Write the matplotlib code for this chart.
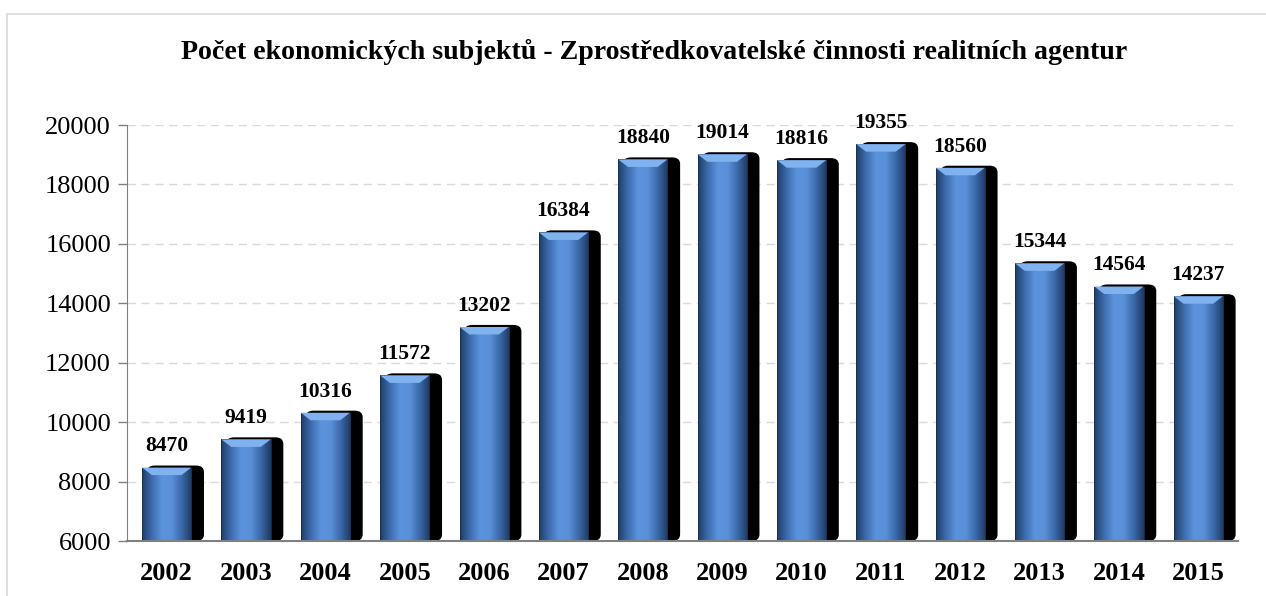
import matplotlib
matplotlib.use("Agg")
import matplotlib.pyplot as plt
import numpy as np
from matplotlib.patches import Rectangle, FancyBboxPatch, Polygon
from matplotlib.colors import LinearSegmentedColormap

years = ["2002", "2003", "2004", "2005", "2006", "2007", "2008",
         "2009", "2010", "2011", "2012", "2013", "2014", "2015"]
values = [8470, 9419, 10316, 11572, 13202, 16384, 18840,
          19014, 18816, 19355, 18560, 15344, 14564, 14237]
yticks = [6000, 8000, 10000, 12000, 14000, 16000, 18000, 20000]
title = "Počet ekonomických subjektů - Zprostředkovatelské činnosti realitních agentur"

plt.rcParams['font.family'] = ['Liberation Serif', 'DejaVu Serif']

fig = plt.figure(figsize=(12.66, 5.96), dpi=100)
ax = fig.add_axes([127/1266, 1-541/596, (1238-127)/1266, (541-125)/596])

# figure border
fig.patches.append(Rectangle((7/1266, -0.05), 1.1, 1-14/596+0.05, transform=fig.transFigure,
                             fill=False, edgecolor='#d9d9d9', linewidth=1.2))

ymin, ymax = 6000, 20000
ax.set_xlim(-0.5, len(years)-0.5)
ax.set_ylim(ymin, ymax)

bw = 0.62
sh = 0.16
cmap = LinearSegmentedColormap.from_list('b', ['#1f3d66', '#3d6cae', '#5b93dc', '#5a90d8', '#3a68a8', '#1d3960'])
grad = np.linspace(0, 1, 256).reshape(1, -1)
yr = ymax - ymin
for i, v in enumerate(values):
    x0 = i - bw/2
    # shadow
    shp = FancyBboxPatch((x0 + 0.06, ymin), bw + sh - 0.06, v - ymin + yr*0.005,
                         boxstyle="round,pad=0,rounding_size=0.1",
                         mutation_aspect=yr/ (len(years)) * 2.2,
                         facecolor='black', edgecolor='none', zorder=2)
    ax.add_patch(shp)
    # blue bar with gradient
    rect = Rectangle((x0, ymin), bw, v - ymin, facecolor='none', edgecolor='none', zorder=3)
    ax.add_patch(rect)
    im = ax.imshow(grad, cmap=cmap, aspect='auto', extent=(x0, x0+bw, ymin, v),
                   zorder=3, interpolation='bicubic')
    im.set_clip_path(rect)
    # outline
    ax.add_patch(Rectangle((x0, ymin), bw, v - ymin, facecolor='none',
                           edgecolor='#1a2f50', linewidth=0.6, zorder=4))
    # top bevel
    bh = yr*0.018
    ax.add_patch(Polygon([(x0, v), (x0+bw, v), (x0+bw*0.8, v-bh), (x0+bw*0.2, v-bh)],
                         closed=True, facecolor='#7fb2ee', edgecolor='none', zorder=4))
    ax.annotate(str(v), (i, v), xytext=(0, 8), textcoords='offset points',
                ha='center', va='bottom', fontsize=15.5, fontweight='bold', color='black',
                annotation_clip=False, zorder=5)

ax.set_yticks(yticks)
ax.set_yticklabels([str(t) for t in yticks], fontsize=19)
ax.set_xticks(range(len(years)))
ax.set_xticklabels(years, fontsize=19, fontweight='bold')
ax.tick_params(axis='x', length=0, pad=15)
ax.tick_params(axis='y', length=6.5, width=1, color='#808080', direction='out', pad=5)
ax.grid(axis='y', color='#d9d9d9', linestyle=(0, (6, 4)), linewidth=1, zorder=0)
ax.set_axisbelow(True)
for s in ['top', 'right']:
    ax.spines[s].set_visible(False)
ax.spines['left'].set_color('#808080')
ax.spines['bottom'].set_color('#808080')
ax.spines['bottom'].set_linewidth(1.5)
ax.spines['bottom'].set_zorder(6)

fig.text(654.5/1266, 1-52/596, title, ha='center', va='center', fontsize=20.1, fontweight='bold')

fig.savefig('out.png', dpi=100)
